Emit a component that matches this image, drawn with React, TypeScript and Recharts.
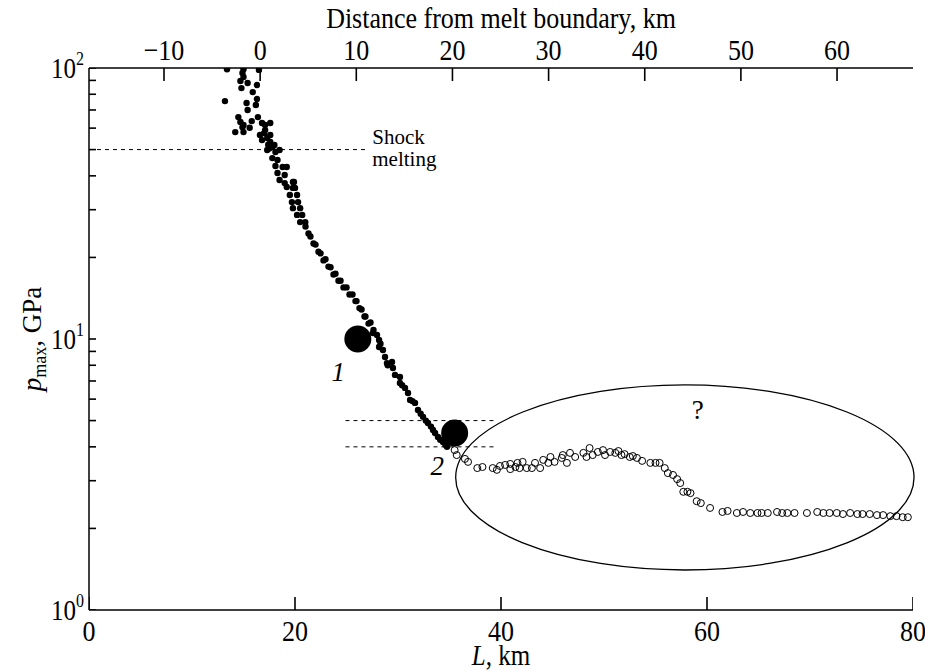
import { ScatterChart, Scatter, XAxis, YAxis, ReferenceLine, ReferenceDot, ReferenceArea } from 'recharts'

const FONT = '"Liberation Serif", "Times New Roman", serif'
const STRETCH = 1.15

// filled points: L, km and p_max, GPa
const solidL = [
  13.4, 15.0, 16.5, 14.9, 15.0, 14.7, 15.4, 16.3, 14.8, 15.9, 13.2, 16.3, 15.3, 16.2, 15.4, 16.4, 14.5, 14.7,
  15.0, 15.8, 14.2, 15.0, 16.8, 17.6, 17.1, 16.6, 17.3, 17.6, 17.8, 17.3, 18.1, 18.5, 17.8, 18.3, 18.1, 18.8,
  19.2, 18.3, 19.0, 18.5, 19.9, 19.2, 20.0, 19.5, 20.2, 16.8, 17.4, 17.6, 17.1, 15.6, 14.9, 17.0, 17.5, 18.0,
  19.0, 19.8, 19.8, 19.7, 20.3, 19.8, 20.5, 20.2, 20.7, 20.5, 21.0,
  21.02, 21.31, 21.5, 21.8, 21.99, 22.28, 22.48, 22.77, 22.96, 23.25, 23.45, 23.74, 23.93, 24.22, 24.42, 24.71,
  25.0, 25.29, 25.58, 25.87, 25.97, 26.26, 26.46, 26.75, 26.84, 27.14, 27.33, 27.62,
  27.57, 27.96, 28.16, 28.16, 28.3, 28.54, 28.74, 28.93, 29.0, 29.42, 29.51, 29.71, 30.19, 30.19, 30.4, 30.68,
  30.97, 31.17, 31.4, 31.65, 31.94, 32.2, 32.43, 32.7, 32.91, 33.2, 33.4, 33.6, 33.88, 34.1, 34.37, 34.6, 34.76,
]
const solidP = [
  99, 99, 98.4, 95.9, 92.6, 89.5, 88.0, 86.5, 84.3, 81.5, 75.5, 76.8, 74.3, 73.0, 70.0, 65.9, 65.9, 63.2,
  61.6, 63.7, 58.0, 58.0, 62.7, 62.7, 59.0, 56.6, 55.2, 53.3, 51.1, 49.8, 49.0, 49.8, 46.5, 45.8, 43.5, 43.1,
  43.1, 41.0, 40.3, 38.6, 38.0, 36.4, 36.1, 34.0, 34.0, 54.2, 52.1, 56.6, 61.6, 60.2, 60.5, 57.5, 50.5, 52.0,
  37.6, 38.0, 36.1, 32.0, 32.0, 30.4, 30.4, 28.7, 28.7, 27.0, 27.0,
  26.0, 24.5, 23.9, 22.5, 22.3, 21.0, 20.7, 19.5, 19.7, 18.5, 18.4, 17.3, 17.4, 16.4, 16.4, 15.5,
  15.5, 14.6, 14.6, 13.8, 13.8, 13.0, 12.85, 12.1, 12.1, 11.4, 11.5, 10.8,
  10.52, 10.34, 9.92, 9.34, 9.6, 9.11, 8.58, 8.15, 8.0, 8.23, 7.82, 7.37, 7.24, 6.88, 6.75, 6.6,
  6.32, 5.96, 5.9, 5.81, 5.47, 5.3, 5.16, 5.0, 4.9, 4.75, 4.62, 4.5, 4.35, 4.25, 4.17, 4.07, 4.0,
]

// open points
const hollowL = [
  35.5, 35.7, 36.5, 36.8, 37.7, 38.2, 39.2, 39.6, 39.9, 40.4, 40.9, 40.9, 41.4, 41.6, 41.8, 42.1, 42.5, 43.0,
  43.3, 43.8, 44.1, 44.6, 44.8, 45.2, 45.9, 46.0, 46.4, 46.7, 47.2, 48.0, 48.3, 48.6, 48.9, 49.4, 49.9, 50.1,
  50.6, 51.1, 51.4, 51.7, 52.0, 52.5, 52.8, 53.2, 53.7, 54.5, 55.0, 55.4, 55.9, 56.2, 56.7, 57.1, 57.4, 57.7,
  58.1, 58.4, 59.0, 59.4, 60.3, 61.5, 62.0, 62.9, 63.5, 64.2, 64.9, 65.3, 65.9, 66.8, 67.3, 67.8, 68.5, 69.7,
  70.7, 71.3, 71.9, 72.6, 73.2, 73.9, 74.6, 75.1, 75.8, 76.5, 77.1, 77.8, 78.4, 79.0, 79.5,
]
const hollowP = [
  3.89, 3.73, 3.61, 3.52, 3.34, 3.37, 3.34, 3.29, 3.40, 3.43, 3.46, 3.31, 3.37, 3.49, 3.34, 3.52, 3.34, 3.34,
  3.49, 3.34, 3.58, 3.49, 3.67, 3.52, 3.64, 3.73, 3.49, 3.80, 3.67, 3.80, 3.67, 3.96, 3.73, 3.83, 3.89, 3.73,
  3.83, 3.80, 3.86, 3.73, 3.76, 3.67, 3.70, 3.64, 3.55, 3.49, 3.49, 3.49, 3.34, 3.20, 3.15, 3.04, 2.94, 2.73,
  2.73, 2.70, 2.52, 2.48, 2.38, 2.30, 2.32, 2.28, 2.30, 2.28, 2.28, 2.28, 2.28, 2.30, 2.28, 2.28, 2.28, 2.28,
  2.30, 2.28, 2.28, 2.28, 2.26, 2.28, 2.26, 2.26, 2.26, 2.24, 2.24, 2.22, 2.22, 2.20, 2.20,
]

// big markers 1 and 2
const markL = [26.1, 35.5]
const markP = [10, 4.5]

const bottomTicks = [0, 20, 40, 60, 80]
const topTicks = [-10, 0, 10, 20, 30, 40, 50, 60]
const yTicks = [1, 2, 3, 4, 5, 6, 7, 8, 9, 10, 20, 30, 40, 50, 60, 70, 80, 90, 100]
const yLabels: Record<number, string> = { 1: '0', 10: '1', 100: '2' }

const solid = solidL.map((L, i) => ({ L, p: solidP[i] }))
const hollow = hollowL.map((L, i) => ({ L, p: hollowP[i] }))
const marks = markL.map((L, i) => ({ L, p: markP[i] }))

// tick mark anchors, placed on the axis lines through the chart scales
const bottomTickPts = bottomTicks.map((L) => ({ L, p: 1 }))
const topTickPts = topTicks.map((L) => ({ L, p: 100 }))
const leftTickPts = yTicks.map((p) => ({ L: 0, p }))

// tall, narrow lettering as in the scanned figure
const Tall = ({ x, y, anchor = 'middle', size = 26, children }: any) => (
  <text transform={`translate(${x} ${y}) scale(1 ${STRETCH})`} x={0} y={0} textAnchor={anchor}
    fontSize={size} fontFamily={FONT} fill="#000">
    {children}
  </text>
)

const BottomTick = ({ x, y, payload }: any) => <Tall x={x} y={y + 31}>{payload.value}</Tall>

const TopTick = ({ x, y, payload }: any) => (
  <Tall x={x} y={y - 8}>{payload.value < 0 ? '\u2212' + Math.abs(payload.value) : payload.value}</Tall>
)

const LeftTick = ({ x, y, payload }: any) => {
  const exp = yLabels[payload.value]
  if (exp === undefined) return <g />
  return (
    <Tall x={x - 5} y={y + 10} anchor="end" size={25}>
      10
      <tspan fontSize={16} dy={-11}>
        {exp}
      </tspan>
    </Tall>
  )
}

// inward tick mark starting on the axis line
const tickMark = (dx: number, dy: number) => (p: any) => (
  <line x1={p.cx} y1={p.cy} x2={p.cx + dx} y2={p.cy + dy} stroke="#000" strokeWidth={1.6} />
)

const dot = (r: number, fill: string) => (props: any) =>
  <circle cx={props.cx} cy={props.cy} r={r} fill={fill} stroke="#000" strokeWidth={fill === 'none' ? 1 : 0} />

const textAt = (lines: string[], opts: { dy: number[]; size: number; italic?: boolean; anchor?: string }) =>
  (props: any) => (
    <text fontFamily={FONT} fontSize={opts.size} fontStyle={opts.italic ? 'italic' : 'normal'} fill="#000"
      textAnchor={opts.anchor ?? 'middle'}>
      {lines.map((s, i) => (
        <tspan key={i} x={props.cx} y={props.cy + opts.dy[i]}>{s}</tspan>
      ))}
    </text>
  )

export default function App() {
  return (
    <div style={{ position: 'absolute', left: 0, top: 0 }}>
      <ScatterChart width={925} height={671} margin={{ top: 0, right: 12, bottom: 0, left: 0 }}>
        <XAxis
          xAxisId="bottom"
          dataKey="L"
          type="number"
          domain={[0, 80]}
          ticks={bottomTicks}
          interval={0}
          allowDataOverflow
          height={61}
          tickSize={0}
          tickMargin={0}
          tick={<BottomTick />}
          tickLine={false}
          axisLine={{ stroke: '#000', strokeWidth: 1.5 }}
          label={{
            content: ({ viewBox }: any) => (
              <Tall x={viewBox.x + viewBox.width / 2} y={viewBox.y + 55} size={25}>
                <tspan fontStyle="italic">L</tspan>, km
              </Tall>
            ),
          }}
        />
        <XAxis
          xAxisId="top"
          dataKey="L"
          orientation="top"
          type="number"
          domain={[-17.8, 67.9]}
          ticks={topTicks}
          interval={0}
          allowDataOverflow
          height={68}
          tickSize={0}
          tickMargin={0}
          tick={<TopTick />}
          tickLine={false}
          axisLine={{ stroke: '#000', strokeWidth: 1.5 }}
          label={{
            content: ({ viewBox }: any) => (
              <Tall x={viewBox.x + viewBox.width / 2} y={viewBox.y + 28}>
                Distance from melt boundary, km
              </Tall>
            ),
          }}
        />
        <YAxis
          dataKey="p"
          type="number"
          scale="log"
          domain={[1, 100]}
          ticks={yTicks}
          allowDataOverflow
          width={89}
          tickSize={0}
          tickMargin={0}
          tick={<LeftTick />}
          tickLine={false}
          interval={0}
          axisLine={{ stroke: '#000', strokeWidth: 1.5 }}
          label={{
            content: ({ viewBox }: any) => {
              const cx = viewBox.x + 41
              const cy = viewBox.y + viewBox.height / 2
              return (
                <text x={cx} y={cy} transform={`rotate(-90, ${cx}, ${cy})`} textAnchor="middle"
                  fontSize={27} fontFamily={FONT} fill="#000">
                  <tspan fontStyle="italic">p</tspan>
                  <tspan fontSize={18} dy={5}>max</tspan>
                  <tspan dy={-5}>, GPa</tspan>
                </text>
              )
            },
          }}
        />

        <ReferenceArea
          xAxisId="bottom"
          x1={35.6}
          x2={80.1}
          y1={1.405}
          y2={6.77}
          ifOverflow="visible"
          shape={(p: any) => (
            <ellipse cx={p.x + p.width / 2} cy={p.y + p.height / 2} rx={p.width / 2} ry={p.height / 2}
              fill="none" stroke="#000" strokeWidth={1.3} />
          )}
        />
        <ReferenceLine xAxisId="bottom" segment={[{ x: 0, y: 50 }, { x: 27.1, y: 50 }]}
          stroke="#000" strokeWidth={1} strokeDasharray="4 4" />
        <ReferenceLine xAxisId="bottom" segment={[{ x: 24.9, y: 5 }, { x: 39.6, y: 5 }]}
          stroke="#000" strokeWidth={1} strokeDasharray="4 4" />
        <ReferenceLine xAxisId="bottom" segment={[{ x: 24.9, y: 4 }, { x: 39.6, y: 4 }]}
          stroke="#000" strokeWidth={1} strokeDasharray="4 4" />

        {/* tick marks pointing into the plot */}
        <Scatter xAxisId="bottom" data={bottomTickPts} shape={tickMark(0, -13)} isAnimationActive={false} />
        <Scatter xAxisId="top" data={topTickPts} shape={tickMark(0, 13)} isAnimationActive={false} />
        <Scatter xAxisId="bottom" data={leftTickPts} shape={tickMark(7, 0)} isAnimationActive={false} />

        <Scatter xAxisId="bottom" data={hollow} shape={dot(3.5, 'none')} isAnimationActive={false} />
        <Scatter xAxisId="bottom" data={solid} shape={dot(3.2, '#000')} isAnimationActive={false} />
        <Scatter xAxisId="bottom" data={marks} shape={dot(13.5, '#000')} isAnimationActive={false} />

        <ReferenceDot xAxisId="bottom" x={27.5} y={50} r={0} ifOverflow="visible"
          shape={textAt(['Shock', 'melting'], { dy: [-6, 16], size: 21, anchor: 'start' })} />
        <ReferenceDot xAxisId="bottom" x={24.2} y={7.55} r={0}
          shape={textAt(['1'], { dy: [9], size: 27, italic: true })} />
        <ReferenceDot xAxisId="bottom" x={33.8} y={3.4} r={0}
          shape={textAt(['2'], { dy: [9], size: 27, italic: true })} />
        <ReferenceDot xAxisId="bottom" x={59.1} y={5.47} r={0}
          shape={textAt(['?'], { dy: [9], size: 27 })} />
      </ScatterChart>
    </div>
  )
}
